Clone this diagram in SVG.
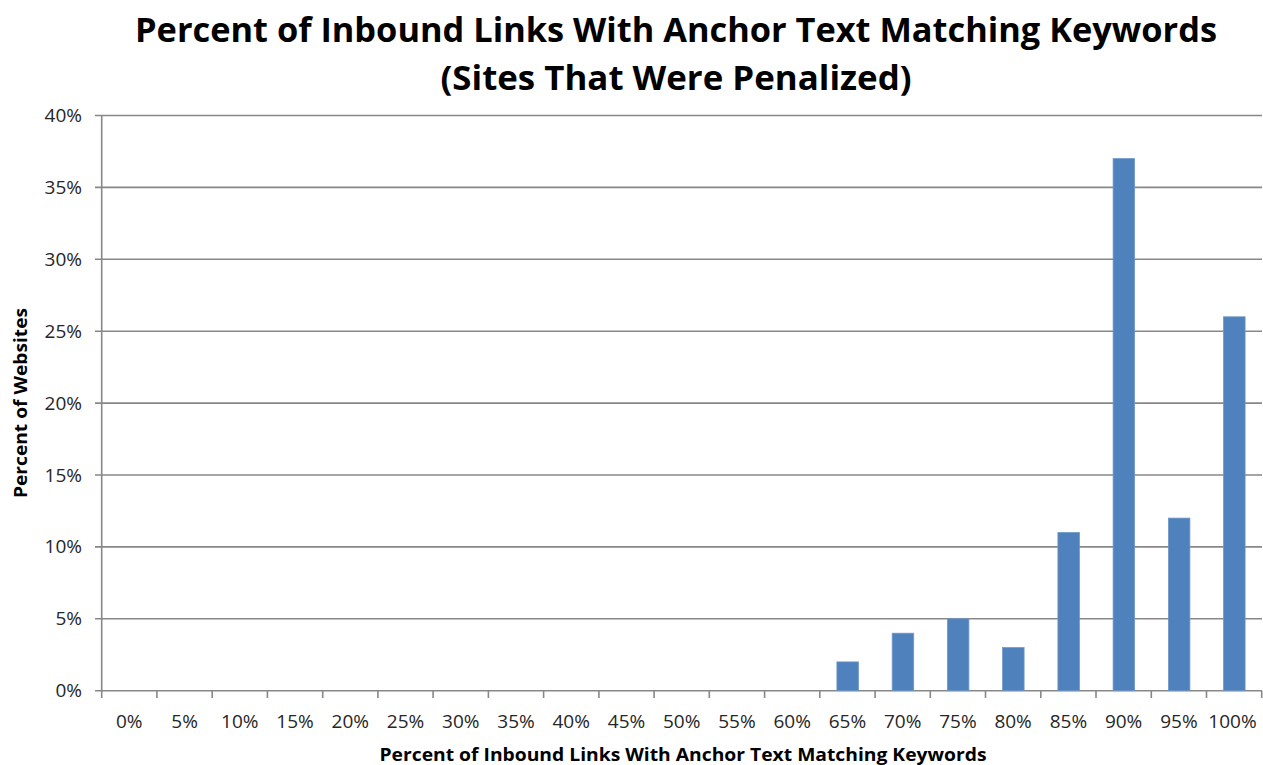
<svg xmlns="http://www.w3.org/2000/svg" width="1263" height="765" viewBox="0 0 1263 765">
<style>
.grid{stroke:#888888;stroke-width:1.6;fill:none}
.bar{fill:#4F81BD;stroke:#6E97C9;stroke-width:0.8}
.tick{font-family:"Open Sans","Liberation Sans",sans-serif;font-size:19px;fill:#262626}
.ytick{text-anchor:end}
.xtick{text-anchor:middle}
.title{font-family:"Open Sans","Liberation Sans",sans-serif;font-weight:bold;font-size:34px;fill:#000;text-anchor:middle}
.axtitle{font-family:"Open Sans","Liberation Sans",sans-serif;font-weight:bold;font-size:17px;fill:#000;text-anchor:middle}
</style>
<rect width="1263" height="765" fill="#ffffff"/>
<g id="title">
<text class="title" x="676" y="42" textLength="1082" lengthAdjust="spacingAndGlyphs">Percent of Inbound Links With Anchor Text Matching Keywords</text>
<text class="title" x="676" y="90" textLength="471" lengthAdjust="spacingAndGlyphs">(Sites That Were Penalized)</text>
</g>
<g id="gridlines">
<path class="grid" d="M95 115.5H1262M95 187.4H1262M95 259.3H1262M95 331.2H1262M95 403.1H1262M95 475H1262M95 546.9H1262M95 618.8H1262"/>
</g>
<g id="axes">
<path class="grid" d="M101.7 115.5V698M95 690.7H1262"/>
<path class="grid" d="M156.9 690.7V698M212.2 690.7V698M267.4 690.7V698M322.7 690.7V698M377.9 690.7V698M433.1 690.7V698M488.4 690.7V698M543.6 690.7V698M598.9 690.7V698M654.1 690.7V698M709.3 690.7V698M764.6 690.7V698M819.8 690.7V698M875.1 690.7V698M930.3 690.7V698M985.5 690.7V698M1040.8 690.7V698M1096 690.7V698M1151.3 690.7V698M1206.5 690.7V698M1261.7 690.7V698"/>
</g>
<g id="bars">
<rect class="bar" x="836.9" y="661.9" width="21.5" height="28.8"/>
<rect class="bar" x="892.2" y="633.2" width="21.5" height="57.5"/>
<rect class="bar" x="947.4" y="618.8" width="21.5" height="71.9"/>
<rect class="bar" x="1002.6" y="647.6" width="21.5" height="43.1"/>
<rect class="bar" x="1057.9" y="532.5" width="21.5" height="158.2"/>
<rect class="bar" x="1113.1" y="158.6" width="21.5" height="532.1"/>
<rect class="bar" x="1168.4" y="518.1" width="21.5" height="172.6"/>
<rect class="bar" x="1223.6" y="316.8" width="21.5" height="373.9"/>
</g>
<g id="y-labels" class="tick ytick">
<text x="82" y="122">40%</text>
<text x="82" y="194">35%</text>
<text x="82" y="266">30%</text>
<text x="82" y="338">25%</text>
<text x="82" y="410">20%</text>
<text x="82" y="482">15%</text>
<text x="82" y="553">10%</text>
<text x="82" y="625">5%</text>
<text x="82" y="697">0%</text>
</g>
<g id="x-labels" class="tick xtick">
<text x="129.3" y="728">0%</text>
<text x="184.6" y="728">5%</text>
<text x="239.8" y="728">10%</text>
<text x="295" y="728">15%</text>
<text x="350.3" y="728">20%</text>
<text x="405.5" y="728">25%</text>
<text x="460.8" y="728">30%</text>
<text x="516" y="728">35%</text>
<text x="571.2" y="728">40%</text>
<text x="626.5" y="728">45%</text>
<text x="681.7" y="728">50%</text>
<text x="736.9" y="728">55%</text>
<text x="792.2" y="728">60%</text>
<text x="847.4" y="728">65%</text>
<text x="902.7" y="728">70%</text>
<text x="957.9" y="728">75%</text>
<text x="1013.1" y="728">80%</text>
<text x="1068.4" y="728">85%</text>
<text x="1123.6" y="728">90%</text>
<text x="1178.9" y="728">95%</text>
<text x="1232.5" y="728">100%</text>
</g>
<g id="axis-titles">
<text class="axtitle" x="683" y="761" textLength="607" lengthAdjust="spacingAndGlyphs">Percent of Inbound  Links With Anchor Text Matching  Keywords</text>
<text class="axtitle" transform="translate(27 403) rotate(-90)" x="0" y="0" textLength="190" lengthAdjust="spacingAndGlyphs">Percent of Websites</text>
</g>
</svg>
